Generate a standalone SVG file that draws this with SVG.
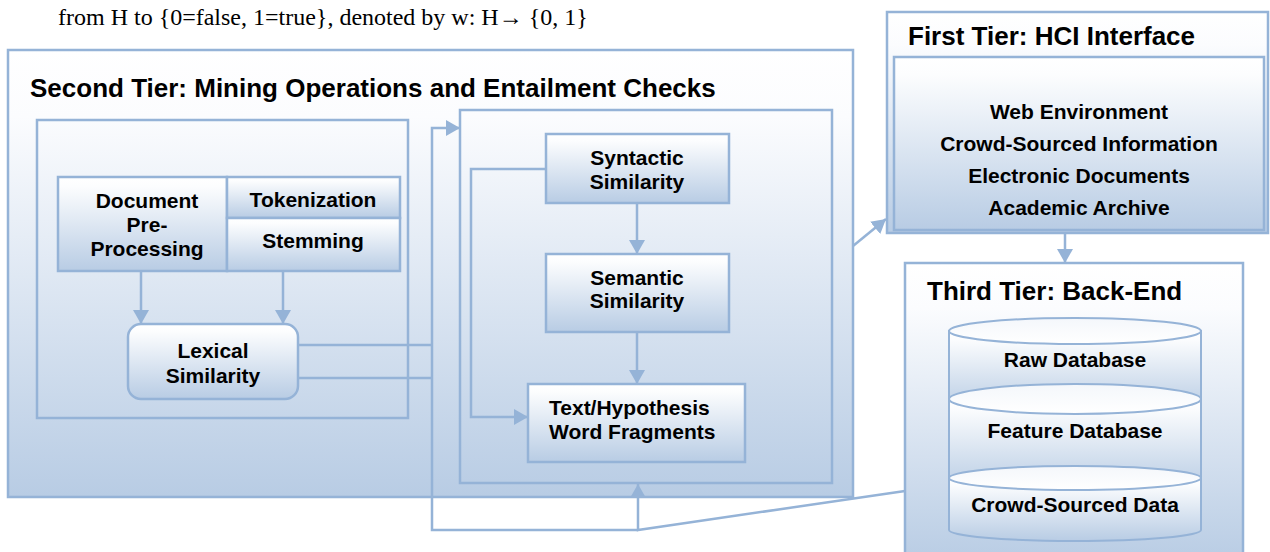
<svg xmlns="http://www.w3.org/2000/svg" width="1270" height="552" viewBox="0 0 1270 552">
<defs>
<linearGradient id="gBox" x1="0" y1="0" x2="0" y2="1">
<stop offset="0" stop-color="#FFFFFF"/>
<stop offset="0.15" stop-color="#FBFCFE"/>
<stop offset="1" stop-color="#B8CCE4"/>
</linearGradient>
<linearGradient id="gNode" x1="0" y1="0" x2="0" y2="1">
<stop offset="0" stop-color="#FFFFFF"/>
<stop offset="0.1" stop-color="#FCFDFE"/>
<stop offset="1" stop-color="#B8CCE4"/>
</linearGradient>
<linearGradient id="gTop" x1="0" y1="0" x2="0" y2="1">
<stop offset="0" stop-color="#F4F7FB"/>
<stop offset="1" stop-color="#FFFFFF"/>
</linearGradient>
<marker id="arr" viewBox="0 0 14 16" refX="14" refY="8" markerWidth="14" markerHeight="16" markerUnits="userSpaceOnUse" orient="auto">
<path d="M0,0 L14,8 L0,16 z" fill="#95B3D7"/>
</marker>
<style>
.frame{fill:url(#gBox);stroke:#95B3D7;stroke-width:2.5}
.group{fill:none;stroke:#95B3D7;stroke-width:2.5}
.node{fill:url(#gNode);stroke:#95B3D7;stroke-width:2.5}
.cyl{fill:url(#gNode);stroke:#95B3D7;stroke-width:2}
.cyltop{fill:url(#gTop);stroke:#95B3D7;stroke-width:2}
.conn{fill:none;stroke:#95B3D7;stroke-width:2.5}
.title{font-family:"Liberation Sans",Arial,sans-serif;font-weight:bold;font-size:26px;fill:#000}
.lbl{font-family:"Liberation Sans",Arial,sans-serif;font-weight:bold;font-size:21px;fill:#000;text-anchor:middle}
.para{font-family:"Liberation Serif","Times New Roman",serif;font-size:24px;fill:#000}
</style>
</defs>
<rect width="1270" height="552" fill="#FFFFFF"/>
<text class="para" x="58" y="25">from H to {0=false, 1=true}, denoted by w: H→ {0, 1}</text>

<g id="second-tier">
<rect class="frame" x="8" y="50" width="845" height="447"/>
<text class="title" x="30" y="97">Second Tier: Mining Operations and Entailment Checks</text>
<rect class="group" x="37" y="120" width="371" height="298"/>
<rect class="group" x="460" y="110" width="372" height="373"/>
</g>

<g id="doc-preprocessing">
<rect class="node" x="58" y="177" width="169" height="94"/>
<text class="lbl" x="147" y="208">Document</text>
<text class="lbl" x="147" y="232">Pre-</text>
<text class="lbl" x="147" y="256">Processing</text>
</g>
<g id="tokenization">
<rect class="node" x="227" y="177" width="173" height="41"/>
<text class="lbl" x="313" y="207">Tokenization</text>
</g>
<g id="stemming">
<rect class="node" x="227" y="218" width="173" height="53"/>
<text class="lbl" x="313" y="248">Stemming</text>
</g>
<g id="lexical">
<rect class="node" x="128" y="324" width="170" height="75" rx="13" ry="13"/>
<text class="lbl" x="213" y="358">Lexical</text>
<text class="lbl" x="213" y="383">Similarity</text>
</g>
<g id="syntactic">
<rect class="node" x="546" y="134" width="183" height="69"/>
<text class="lbl" x="637" y="165">Syntactic</text>
<text class="lbl" x="637" y="189">Similarity</text>
</g>
<g id="semantic">
<rect class="node" x="546" y="254" width="183" height="78"/>
<text class="lbl" x="637" y="285">Semantic</text>
<text class="lbl" x="637" y="308">Similarity</text>
</g>
<g id="fragments">
<rect class="node" x="528" y="384" width="217" height="78"/>
<text class="lbl" x="549" y="415" style="text-anchor:start">Text/Hypothesis</text>
<text class="lbl" x="549" y="439" style="text-anchor:start">Word Fragments</text>
</g>

<g id="first-tier">
<rect class="frame" x="887" y="12" width="381" height="221"/>
<text class="title" x="908" y="45">First Tier: HCI Interface</text>
<rect class="node" x="894" y="57" width="370" height="173"/>
<text class="lbl" x="1079" y="119">Web Environment</text>
<text class="lbl" x="1079" y="151">Crowd-Sourced Information</text>
<text class="lbl" x="1079" y="183">Electronic Documents</text>
<text class="lbl" x="1079" y="215">Academic Archive</text>
</g>

<g id="third-tier">
<rect class="frame" x="905" y="263" width="338" height="300"/>
<text class="title" x="927" y="300">Third Tier: Back-End</text>
</g>
<g id="raw-db">
<path class="cyl" d="M949,331 V398 A126,13 0 0 0 1201,398 V331 Z"/>
<ellipse class="cyltop" cx="1075" cy="331" rx="126" ry="13"/>
<text class="lbl" x="1075" y="367">Raw Database</text>
</g>
<g id="feature-db">
<path class="cyl" d="M949,399 V478 A126,13 0 0 0 1201,478 V399 Z"/>
<ellipse class="cyltop" cx="1075" cy="399" rx="126" ry="15"/>
<text class="lbl" x="1075" y="438">Feature Database</text>
</g>
<g id="crowd-db">
<path class="cyl" d="M949,478 V530 A126,11 0 0 0 1201,530 V478 Z"/>
<ellipse class="cyltop" cx="1075" cy="478" rx="126" ry="12"/>
<text class="lbl" x="1075" y="512">Crowd-Sourced Data</text>
</g>

<g id="connectors">
<path class="conn" d="M141,271 V324" marker-end="url(#arr)"/>
<path class="conn" d="M283,271 V324" marker-end="url(#arr)"/>
<path class="conn" d="M298,345 H432"/>
<path class="conn" d="M298,378 H432"/>
<path class="conn" d="M638,530 H432 V128 H460" marker-end="url(#arr)"/>
<path class="conn" d="M905,491 L638,530 V484" marker-end="url(#arr)"/>
<path class="conn" d="M637,203 V254" marker-end="url(#arr)"/>
<path class="conn" d="M637,332 V384" marker-end="url(#arr)"/>
<path class="conn" d="M546,169 H471 V417 H528" marker-end="url(#arr)"/>
<path class="conn" d="M853,246 L886,219" marker-end="url(#arr)"/>
<path class="conn" d="M1065,233 V263" marker-end="url(#arr)"/>
</g>
</svg>
